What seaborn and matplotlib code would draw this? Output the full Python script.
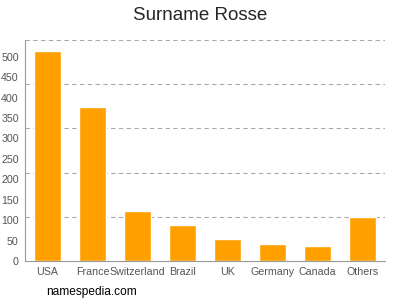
import matplotlib
matplotlib.use("Agg")
import matplotlib.pyplot as plt
import seaborn as sns
import numpy as np
import pandas as pd

countries = ["USA", "France", "Switzerland", "Brazil", "UK", "Germany", "Canada", "Others"]
counts = [515, 377, 122, 87, 54, 42, 37, 107]
yticks = [0, 50, 100, 150, 200, 250, 300, 350, 400, 450, 500]
ymax = 541

sns.set_style("white")
plt.rcParams['font.family'] = ['Liberation Sans', 'DejaVu Sans']

df = pd.DataFrame({"country": countries, "count": counts})
fig = plt.figure(figsize=(4, 3), dpi=100)
ax = fig.add_axes([0.0625, 0.13, 0.9, 0.7367])
sns.barplot(data=df, x="country", y="count", color="#FFA000", saturation=1, width=0.62, ax=ax)

ax.set_ylim(0, ymax)
ax.set_xlim(-0.5, len(countries) - 0.5)
ax.set_yticks(yticks)
ax.set_yticks(np.linspace(0, ymax, 6)[1:], minor=True)
ax.grid(False)
ax.grid(True, which="minor", axis="y", color="#aaaaaa", linestyle=(0, (4, 3)), linewidth=0.8)
ax.set_axisbelow(True)
ax.tick_params(axis="y", which="minor", length=0)
ax.tick_params(axis="both", which="major", labelsize=7.7, colors="#777777", length=3, width=0.8, pad=1.5)
ax.tick_params(axis="both", labelcolor="#555555")
ax.set_xlabel("")
ax.set_ylabel("")
for s in ["top", "right"]:
    ax.spines[s].set_visible(False)
for s in ["left", "bottom"]:
    ax.spines[s].set_color("#999999")
    ax.spines[s].set_linewidth(0.8)

fig.text(0.5, 0.95, "Surname Rosse", ha="center", va="center", fontsize=13.5)
fig.text(0.115, 0.027, "namespedia.com", ha="left", va="center", fontsize=8.6, color="black")

fig.savefig("out.png", dpi=100)
